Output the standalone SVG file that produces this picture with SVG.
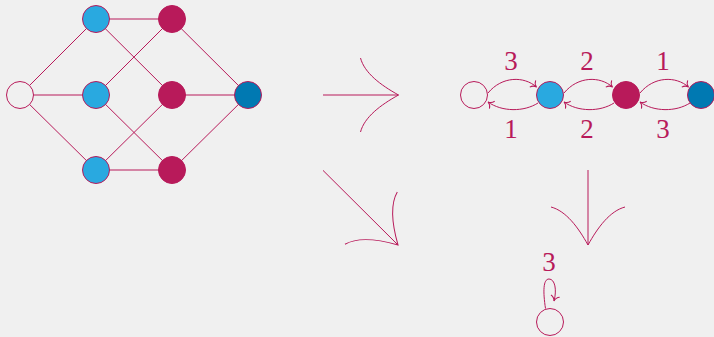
<svg xmlns="http://www.w3.org/2000/svg" width="714" height="337" viewBox="0 0 714 337">
<style>
.n{stroke:#B81A5A;stroke-width:1}
.w{fill:#F0F0F0}
.b{fill:#29A9E0}
.m{fill:#B81A5A}
.d{fill:#0079B2}
.t{font-family:"Liberation Serif","DejaVu Serif",serif;font-size:27px;fill:#B81A5A;text-anchor:middle}
</style>
<defs>
<marker id="ah" markerUnits="userSpaceOnUse" markerWidth="10" markerHeight="10" orient="auto" overflow="visible">
<path d="M -5,-4.5 C -4,-1.7 -1.7,-0.4 0,0 C -1.7,0.4 -4,1.7 -5,4.5" stroke="#B81A5A" stroke-width="1" fill="none"/>
</marker>
<path id="bh" d="M -38,-37 C -34,-22 -18,-10 0,0 C -18,10 -34,22 -38,37" stroke="#B81A5A" stroke-width="1" fill="none"/>
</defs>
<rect width="714" height="337" fill="#F0F0F0"/>
<g id="connectors" stroke="#B81A5A" fill="none" stroke-width="1">
<path d="M 20,95 L 96,19"/>
<path d="M 20,95 L 96,95"/>
<path d="M 20,95 L 96,170"/>
<path d="M 96,19 L 172,19"/>
<path d="M 96,19.4 L 172,95"/>
<path d="M 96,95 L 172,19"/>
<path d="M 96,95 L 172,170"/>
<path d="M 96,170 L 172,95"/>
<path d="M 96,170 L 172,170"/>
<path d="M 172,19.4 L 248,95"/>
<path d="M 172,95 L 248,95"/>
<path d="M 172,170 L 248,95"/>
<path marker-end="url(#ah)" d="M 488,93 C 502,76 524,76 536.5,87"/>
<path marker-end="url(#ah)" d="M 564,93 C 578,76 600,76 612.5,87"/>
<path marker-end="url(#ah)" d="M 640,93 C 654,76 676,76 688.5,87"/>
<path marker-end="url(#ah)" d="M 538,103 C 524,112 502,112 488,102"/>
<path marker-end="url(#ah)" d="M 614,103 C 600,112 578,112 564,102"/>
<path marker-end="url(#ah)" d="M 690,103 C 676,112 654,112 640,102"/>
<path marker-end="url(#ah)" d="M 545.5,308.5 C 543,292 543,279 549,279 C 555,279 557,290 554,301"/>
<path d="M 323,95 L 398.5,95"/>
<use href="#bh" transform="translate(398.5,95)"/>
<path d="M 323,170.4 L 398,245"/>
<use href="#bh" transform="translate(398,245) rotate(45)"/>
<path d="M 588,170 L 588,245"/>
<use href="#bh" transform="translate(588,245) rotate(90)"/>
</g>
<g id="g1-a"><circle class="n w" cx="20" cy="95" r="13.5"/></g>
<g id="g1-b1"><circle class="n b" cx="96" cy="19" r="13.5"/></g>
<g id="g1-b2"><circle class="n b" cx="96" cy="95" r="13.5"/></g>
<g id="g1-b3"><circle class="n b" cx="96" cy="170" r="13.5"/></g>
<g id="g1-m1"><circle class="n m" cx="172" cy="19" r="13.5"/></g>
<g id="g1-m2"><circle class="n m" cx="172" cy="95" r="13.5"/></g>
<g id="g1-m3"><circle class="n m" cx="172" cy="170" r="13.5"/></g>
<g id="g1-d"><circle class="n d" cx="248" cy="95" r="13.5"/></g>
<g id="g2-a"><circle class="n w" cx="474" cy="95" r="13.5"/></g>
<g id="g2-b"><circle class="n b" cx="550" cy="95" r="13.5"/></g>
<g id="g2-m"><circle class="n m" cx="626" cy="95" r="13.5"/></g>
<g id="g2-d"><circle class="n d" cx="701" cy="95" r="13.5"/></g>
<g id="g3-a"><circle class="n w" cx="550" cy="322" r="13.5"/></g>
<g id="labels">
<text class="t" x="511" y="70">3</text>
<text class="t" x="587" y="70">2</text>
<text class="t" x="663" y="70">1</text>
<text class="t" x="511" y="138">1</text>
<text class="t" x="587" y="138">2</text>
<text class="t" x="663" y="138">3</text>
<text class="t" x="549" y="271">3</text>
</g>
</svg>
